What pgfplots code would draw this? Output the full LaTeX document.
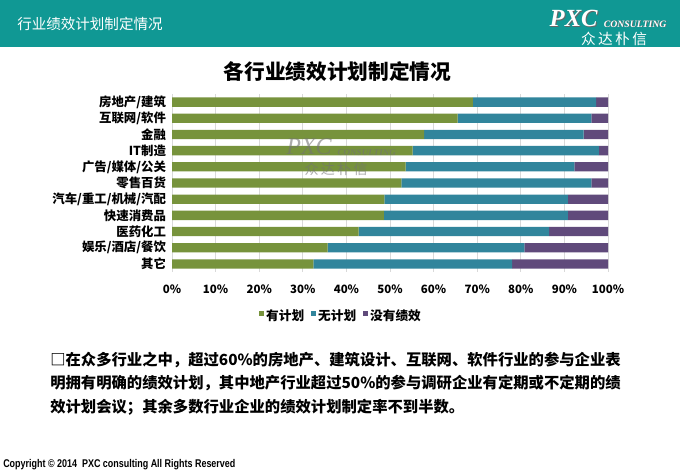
\documentclass[border=0pt]{standalone}
\usepackage{pgfplots}
\pgfplotsset{compat=1.18}
\usepackage{fontspec}
\setmainfont{Noto Sans CJK SC}
\newfontfamily\cjk{Noto Sans CJK SC}
\newfontfamily\logoserif{Liberation Serif}
\newfontfamily\copyfont{Liberation Sans}
\definecolor{hdr}{RGB}{16,152,148}
\definecolor{cgreen}{RGB}{119,147,60}
\definecolor{cblue}{RGB}{49,133,156}
\definecolor{cpurple}{RGB}{96,74,123}
\definecolor{gridc}{RGB}{217,217,217}
\begin{document}
\begin{tikzpicture}
\useasboundingbox (0pt,0pt) rectangle (510pt,-353.25pt);
\fill[white] (0pt,0pt) rectangle (510pt,-353.25pt);
% header
\fill[hdr] (0pt,0pt) rectangle (510pt,-35.25pt);
\node[anchor=west,text=white,font=\cjk\fontsize{10.9pt}{12pt}\selectfont,inner sep=0pt] at (12.75pt,-18pt) {行业绩效计划制定情况};
% logo
\node[text=black!60,font=\logoserif\bfseries\itshape\fontsize{18.5pt}{20pt}\selectfont,inner sep=0pt] at (431pt,-14.75pt) {PXC};
\node[text=white,font=\logoserif\bfseries\itshape\fontsize{18.5pt}{20pt}\selectfont,inner sep=0pt] at (430.25pt,-14pt) {PXC};
\node[anchor=west,text=black!60,font=\logoserif\bfseries\itshape\fontsize{7.3pt}{8pt}\selectfont,inner sep=0pt] at (453.25pt,-18.5pt) {CONSULTING};
\node[anchor=west,text=white,font=\logoserif\bfseries\itshape\fontsize{7.3pt}{8pt}\selectfont,inner sep=0pt] at (452.75pt,-18pt) {CONSULTING};
\node[text=white,font=\cjk\fontsize{11pt}{12pt}\selectfont,inner sep=0pt] at (460.5pt,-29.25pt) {众\,达\,朴\,信};
% chart title
\node[font=\cjk\bfseries\fontsize{15.5pt}{17pt}\selectfont,inner sep=0pt] at (253pt,-54pt) {各行业绩效计划制定情况};
\begin{axis}[
  at={(129pt,-204pt)}, anchor=south west,
  scale only axis, width=327pt, height=133.5pt,
  xbar stacked, bar width=7pt,
  xmin=0, xmax=100, ymin=-0.5, ymax=10.5,
  y dir=reverse,
  axis line style={draw=none},
  major tick length=0pt,
  xmajorgrids, major grid style={gridc, line width=0.6pt},
  xtick={0,10,...,100},
  xticklabels={0\%,10\%,20\%,30\%,40\%,50\%,60\%,70\%,80\%,90\%,100\%},
  xticklabel style={font=\cjk\bfseries\fontsize{8.6pt}{10pt}\selectfont, yshift=-6pt},
  ytick={0,...,10},
  yticklabels={房地产/建筑,互联网/软件,金融,IT制造,广告/媒体/公关,零售百货,汽车/重工/机械/汽配,快速消费品,医药化工,娱乐/酒店/餐饮,其它},
  yticklabel style={font=\cjk\bfseries\fontsize{9.3pt}{10pt}\selectfont, xshift=-1pt},
  legend style={at={(0.388,-0.247)}, anchor=center, draw=none, fill=none,
    font=\cjk\bfseries\fontsize{9.5pt}{10pt}\selectfont,
    /tikz/every even column/.append style={column sep=3pt}},
  legend columns=3,
  legend image code/.code={\fill[#1] (0pt,0pt) rectangle (3.5pt,3.5pt);},
  /pgf/number format/assume math mode=true,
]
\addplot[fill=cgreen, draw=none] coordinates {
 (69.0,0) (65.5,1) (57.8,2) (55.2,3) (53.6,4) (52.6,5) (48.7,6) (48.6,7) (42.8,8) (35.7,9) (32.4,10)};
\addplot[fill=cblue, draw=none] coordinates {
 (28.3,0) (30.7,1) (36.6,2) (42.7,3) (38.7,4) (43.6,5) (42.1,6) (42.2,7) (43.7,8) (45.1,9) (45.6,10)};
\addplot[fill=cpurple, draw=none] coordinates {
 (2.7,0) (3.8,1) (5.6,2) (2.1,3) (7.7,4) (3.8,5) (9.2,6) (9.2,7) (13.5,8) (19.2,9) (22.0,10)};
\legend{有计划,无计划,没有绩效}
\end{axis}
% watermark
\node[text=black!55,opacity=0.6,font=\logoserif\itshape\fontsize{18pt}{18pt}\selectfont,inner sep=0pt] at (231.75pt,-110.25pt) {PXC};
\node[anchor=west,text=black!55,opacity=0.6,font=\logoserif\bfseries\itshape\fontsize{6.8pt}{7pt}\selectfont,inner sep=0pt] at (253pt,-114.75pt) {CONSULTING};
\node[text=black!55,opacity=0.6,font=\cjk\fontsize{10.5pt}{11pt}\selectfont,inner sep=0pt] at (252pt,-127pt) {众\,达\,朴\,信};
% paragraph
\begin{scope}[every node/.style={anchor=west,inner sep=0pt,font=\cjk\bfseries\fontsize{11.5pt}{13pt}\selectfont}]
\node at (37.5pt,-270pt) {□在众多行业之中，超过60\%的房地产、建筑设计、互联网、软件行业的参与企业表};
\node at (37.5pt,-287.25pt) {明拥有明确的绩效计划，其中地产行业超过50\%的参与调研企业有定期或不定期的绩};
\node at (37.5pt,-305.25pt) {效计划会议；其余多数行业企业的绩效计划制定率不到半数。};
\end{scope}
% copyright
\node[anchor=west,inner sep=0pt] at (2.25pt,-348.75pt) {\scalebox{0.8}[1]{\copyfont\bfseries\fontsize{8.4pt}{9pt}\selectfont Copyright © 2014\ \ PXC consulting All Rights Reserved}};
\end{tikzpicture}
\end{document}
